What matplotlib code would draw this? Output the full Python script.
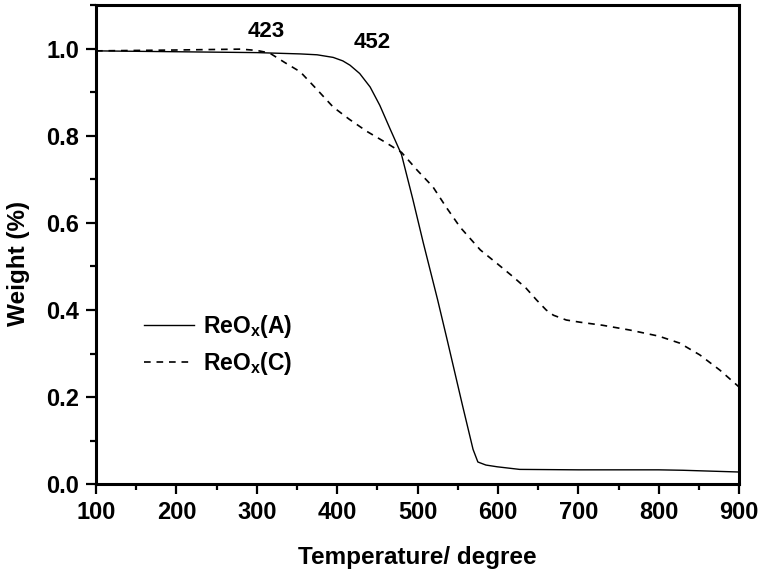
import matplotlib.pyplot as plt
from matplotlib.ticker import MultipleLocator

plt.rcParams['font.family'] = 'Liberation Sans'
plt.rcParams['font.weight'] = 'bold'
plt.rcParams['mathtext.fontset'] = 'custom'
plt.rcParams['mathtext.rm'] = 'Liberation Sans:bold'
plt.rcParams['mathtext.it'] = 'Liberation Sans:bold'
plt.rcParams['mathtext.bf'] = 'Liberation Sans:bold'

# ReOx(A)
temp_a = [100, 200, 300, 354, 375, 395, 407, 416, 428, 441, 453, 466, 480, 494,
          507, 525, 537, 556, 569, 575, 585, 599, 627, 700, 800, 830, 900]
weight_a = [0.995, 0.993, 0.991, 0.988, 0.986, 0.980, 0.972, 0.962, 0.943, 0.912,
            0.870, 0.815, 0.757, 0.655, 0.555, 0.423, 0.33, 0.18, 0.08, 0.051,
            0.044, 0.040, 0.034, 0.033, 0.033, 0.032, 0.028]

# ReOx(C)
temp_c = [100, 200, 280, 300, 316, 335, 354, 375, 395, 415, 437, 460, 480, 500,
          519, 536, 553, 578, 600, 619, 635, 648, 660, 669, 685, 702, 730, 764,
          800, 826, 851, 876, 900]
weight_c = [0.995, 0.997, 0.999, 0.996, 0.99, 0.968, 0.947, 0.906, 0.866, 0.838,
            0.81, 0.785, 0.762, 0.72, 0.683, 0.635, 0.59, 0.538, 0.505, 0.476,
            0.45, 0.423, 0.40, 0.388, 0.377, 0.372, 0.365, 0.354, 0.34, 0.324,
            0.297, 0.262, 0.223]

labels = ['ReO$_\\mathrm{x}$(A)', 'ReO$_\\mathrm{x}$(C)']
peaks = [(312, 1.039, '423'), (444, 1.014, '452')]

fig = plt.figure(figsize=(7.62, 5.71), dpi=100)
ax = fig.add_axes([0.126, 0.152, 0.844, 0.839])

ax.plot(temp_a, weight_a, color='black', lw=1.0, label=labels[0])
ax.plot(temp_c, weight_c, color='black', lw=1.2, dashes=(4, 3.5), label=labels[1])

for x, y, t in peaks:
    ax.text(x, y, t, ha='center', va='center', fontsize=16, fontweight='bold')

ax.set_xlim(100, 900)
ax.set_ylim(0, 1.1)
ax.xaxis.set_major_locator(MultipleLocator(100))
ax.xaxis.set_minor_locator(MultipleLocator(50))
ax.yaxis.set_major_locator(MultipleLocator(0.2))
ax.yaxis.set_minor_locator(MultipleLocator(0.1))
ax.tick_params(which='major', direction='out', length=7, width=1.6, labelsize=17, pad=5)
ax.tick_params(which='minor', direction='out', length=4.3, width=1.6)
for s in ax.spines.values():
    s.set_linewidth(2.2)

ax.set_xlabel('Temperature/ degree', fontsize=17.5, fontweight='bold', labelpad=16)
ax.set_ylabel('Weight (%)', fontsize=17.5, fontweight='bold')
ax.yaxis.set_label_coords(-0.102, 0.46)

ax.legend(loc='center left', bbox_to_anchor=(0.06, 0.29), frameon=False, fontsize=16.5,
          handlelength=2.2, handletextpad=0.4, labelspacing=0.45, borderaxespad=0)

fig.savefig('out.png', dpi=100)
